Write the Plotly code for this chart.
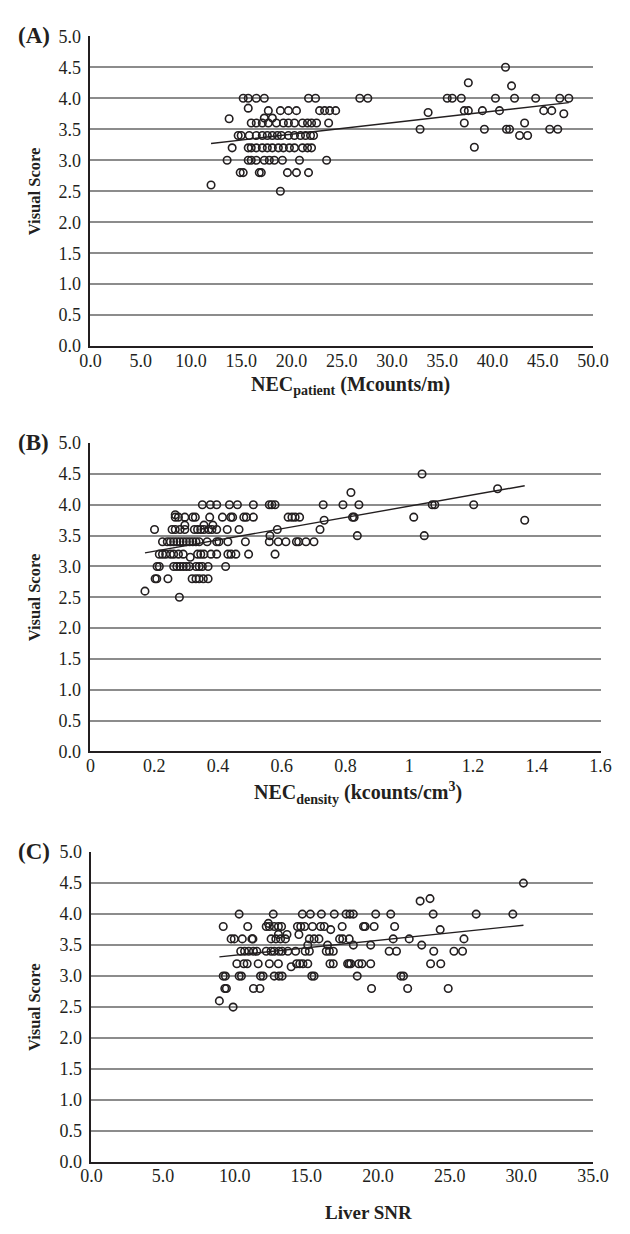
import plotly.graph_objects as go

# ---------------- Panel A: NEC_patient (Mcounts/m) vs Visual Score ----------------
a_x = [15.2, 15.7, 16.5, 17.3, 21.7, 22.4, 26.8, 27.6, 35.5, 36.0, 36.9, 40.3, 42.2, 44.3, 46.7, 47.6,
       41.3, 37.6, 41.9, 15.7,
       17.7, 18.9, 19.7, 20.5, 22.8, 23.3, 23.8, 24.4, 37.2, 37.6, 39.0, 40.7, 45.1, 45.9,
       33.6, 47.1, 17.3, 18.1, 13.8,
       16.0, 16.5, 17.1, 17.7, 18.5, 19.2, 19.7, 20.3, 21.1, 21.6, 22.0, 22.5, 23.7, 37.2, 43.2,
       32.8, 39.2, 41.4, 41.7, 45.7, 46.5,
       14.7, 15.0, 15.8, 16.5, 17.1, 17.6, 18.1, 18.6, 19.0, 19.7, 20.3, 20.9, 21.4, 21.9, 22.2, 42.7, 43.5,
       14.1, 15.7, 16.0, 16.5, 17.1, 17.6, 18.1, 18.7, 19.2, 19.8, 20.3, 21.1, 21.6, 22.0, 38.2,
       13.6, 15.7, 16.0, 16.5, 17.3, 17.8, 18.3, 19.1, 20.8, 23.5,
       14.9, 15.2, 16.8, 17.0, 19.6, 20.5, 21.7,
       12.0, 18.9]
a_y = [4.0, 4.0, 4.0, 4.0, 4.0, 4.0, 4.0, 4.0, 4.0, 4.0, 4.0, 4.0, 4.0, 4.0, 4.0, 4.0,
       4.5, 4.25, 4.2, 3.84,
       3.8, 3.8, 3.8, 3.8, 3.8, 3.8, 3.8, 3.8, 3.8, 3.8, 3.8, 3.8, 3.8, 3.8,
       3.77, 3.75, 3.68, 3.68, 3.67,
       3.6, 3.6, 3.6, 3.6, 3.6, 3.6, 3.6, 3.6, 3.6, 3.6, 3.6, 3.6, 3.6, 3.6, 3.6,
       3.5, 3.5, 3.5, 3.5, 3.5, 3.5,
       3.4, 3.4, 3.4, 3.4, 3.4, 3.4, 3.4, 3.4, 3.4, 3.4, 3.4, 3.4, 3.4, 3.4, 3.4, 3.4, 3.4,
       3.2, 3.2, 3.2, 3.2, 3.2, 3.2, 3.2, 3.2, 3.2, 3.2, 3.2, 3.2, 3.2, 3.2, 3.21,
       3.0, 3.0, 3.0, 3.0, 3.0, 3.0, 3.0, 3.0, 3.0, 3.0,
       2.8, 2.8, 2.8, 2.8, 2.8, 2.8, 2.8,
       2.6, 2.5]
a_trend_x = [12.0, 47.6]
a_trend_y = [3.27, 3.93]

# ---------------- Panel B: NEC_density (kcounts/cm3) vs Visual Score ----------------
b_x = [0.171, 0.279,
       0.203, 0.208, 0.243, 0.319, 0.331, 0.341, 0.354, 0.369,
       0.209, 0.216, 0.261, 0.271, 0.281, 0.291, 0.301, 0.311, 0.331, 0.341, 0.351, 0.369, 0.424,
       0.313,
       0.216, 0.226, 0.236, 0.251, 0.261, 0.276, 0.291, 0.336, 0.346, 0.356, 0.378, 0.396, 0.431, 0.441, 0.456, 0.496, 0.579,
       0.226, 0.241, 0.251, 0.261, 0.271, 0.281, 0.291, 0.301, 0.311, 0.321, 0.331, 0.341, 0.366, 0.396, 0.403, 0.431, 0.486,
       0.561, 0.589, 0.613, 0.646, 0.653, 0.676, 0.701,
       0.563, 0.837, 1.047,
       0.201, 0.256, 0.266, 0.281, 0.296, 0.326, 0.336, 0.346, 0.356, 0.371, 0.381, 0.396, 0.429, 0.466, 0.586, 0.720,
       0.296, 0.356, 0.384,
       0.733, 1.362,
       0.266, 0.276, 0.296, 0.321, 0.329, 0.374, 0.414, 0.440, 0.446, 0.481, 0.489, 0.511, 0.620, 0.632, 0.642, 0.656,
       0.822, 0.827, 1.014,
       0.266,
       0.351, 0.376, 0.396, 0.436, 0.461, 0.511, 0.561, 0.569, 0.579, 0.730, 0.792, 0.842, 1.072, 1.080, 1.202,
       0.817, 1.277, 1.040]
b_y = [2.6, 2.5,
       2.8, 2.8, 2.8, 2.8, 2.8, 2.8, 2.8, 2.8,
       3.0, 3.0, 3.0, 3.0, 3.0, 3.0, 3.0, 3.0, 3.0, 3.0, 3.0, 3.0, 3.0,
       3.15,
       3.2, 3.2, 3.2, 3.2, 3.2, 3.2, 3.2, 3.2, 3.2, 3.2, 3.2, 3.2, 3.2, 3.2, 3.2, 3.2, 3.2,
       3.4, 3.4, 3.4, 3.4, 3.4, 3.4, 3.4, 3.4, 3.4, 3.4, 3.4, 3.4, 3.4, 3.4, 3.4, 3.4, 3.4,
       3.4, 3.4, 3.4, 3.4, 3.4, 3.4, 3.4,
       3.5, 3.5, 3.5,
       3.6, 3.6, 3.6, 3.6, 3.6, 3.6, 3.6, 3.6, 3.6, 3.6, 3.6, 3.6, 3.6, 3.6, 3.6, 3.6,
       3.67, 3.67, 3.67,
       3.75, 3.75,
       3.8, 3.8, 3.8, 3.8, 3.8, 3.8, 3.8, 3.8, 3.8, 3.8, 3.8, 3.8, 3.8, 3.8, 3.8, 3.8,
       3.8, 3.8, 3.8,
       3.84,
       4.0, 4.0, 4.0, 4.0, 4.0, 4.0, 4.0, 4.0, 4.0, 4.0, 4.0, 4.0, 4.0, 4.0, 4.0,
       4.2, 4.26, 4.5]
b_trend_x = [0.171, 1.362]
b_trend_y = [3.22, 4.31]

# ---------------- Panel C: Liver SNR vs Visual Score ----------------
c_x = [9.89, 8.93,
       9.31, 9.42, 11.31, 11.76, 19.55, 22.07, 24.90,
       9.20, 9.35, 10.31, 10.47, 11.80, 11.98, 12.76, 13.09, 13.31, 15.38, 15.54, 18.55, 21.60, 21.78,
       13.94,
       10.15, 10.64, 10.87, 11.64, 12.42, 13.05, 14.32, 14.54, 14.76, 15.10, 16.65, 16.88, 17.88, 17.99, 18.66,
       18.10, 18.88, 19.49, 23.67, 24.38,
       10.42, 10.69, 10.98, 11.31, 11.54, 12.20, 12.54, 12.76, 13.09, 13.31, 13.71, 14.25, 14.92, 15.21, 16.39,
       16.61, 16.88, 20.78, 21.29, 23.89, 25.30, 25.90,
       15.10, 16.48, 18.28, 19.49, 23.05,
       9.75, 9.97, 10.53, 11.20, 11.27, 12.54, 12.87, 13.20, 13.54, 15.21, 15.54, 15.88, 17.32, 17.54, 17.99,
       21.06, 22.18, 26.00,
       13.05, 13.65, 14.48,
       16.70, 24.34,
       9.20, 10.91, 12.20, 12.42, 12.76, 13.05, 13.27, 14.38, 14.61, 14.88, 15.43, 15.99, 16.25, 17.50, 18.99,
       19.10, 19.73, 21.16,
       12.35,
       10.31, 12.69, 14.72, 15.28, 16.05, 16.95, 17.77, 18.04, 18.28, 19.84, 20.89, 23.85, 26.85, 29.41,
       22.94, 23.63, 30.15]
c_y = [2.5, 2.6,
       2.8, 2.8, 2.8, 2.8, 2.8, 2.8, 2.8,
       3.0, 3.0, 3.0, 3.0, 3.0, 3.0, 3.0, 3.0, 3.0, 3.0, 3.0, 3.0, 3.0, 3.0,
       3.15,
       3.2, 3.2, 3.2, 3.2, 3.2, 3.2, 3.2, 3.2, 3.2, 3.2, 3.2, 3.2, 3.2, 3.2, 3.2,
       3.2, 3.2, 3.2, 3.2, 3.2,
       3.4, 3.4, 3.4, 3.4, 3.4, 3.4, 3.4, 3.4, 3.4, 3.4, 3.4, 3.4, 3.4, 3.4, 3.4,
       3.4, 3.4, 3.4, 3.4, 3.4, 3.4, 3.4,
       3.5, 3.5, 3.5, 3.5, 3.5,
       3.6, 3.6, 3.6, 3.6, 3.6, 3.6, 3.6, 3.6, 3.6, 3.6, 3.6, 3.6, 3.6, 3.6, 3.6,
       3.6, 3.6, 3.6,
       3.67, 3.67, 3.67,
       3.75, 3.75,
       3.8, 3.8, 3.8, 3.8, 3.8, 3.8, 3.8, 3.8, 3.8, 3.8, 3.8, 3.8, 3.8, 3.8, 3.8,
       3.8, 3.8, 3.8,
       3.85,
       4.0, 4.0, 4.0, 4.0, 4.0, 4.0, 4.0, 4.0, 4.0, 4.0, 4.0, 4.0, 4.0, 4.0,
       4.21, 4.25, 4.5]
c_trend_x = [8.93, 30.15]
c_trend_y = [3.31, 3.82]

panel_labels = ["(A)", "(B)", "(C)"]
x_titles = ["<b>NEC<sub>patient</sub> (Mcounts/m)</b>",
            "<b>NEC<sub>density</sub> (kcounts/cm<sup>3</sup>)</b>",
            "<b>Liver SNR</b>"]
y_title = "<b>Visual Score</b>"

# ---------------- styling / layout ----------------
W, H = 630, 1234
INK = "#231f20"
FONT = "Liberation Serif"

# pixel geometry of the three plot areas: (left, right, top, bottom)
boxes = [(83, 608, 26.7, 341.7), (83, 616, 440.3, 753.7), (84, 608, 856, 1171)]
x_ranges = [[0, 50], [0, 1.6], [0, 35]]
x_dticks = [5, 0.2, 5]
x_formats = [".1f", "", ".1f"]
x_title_pos = [(355, 382), (363, 796), (374, 1222)]
x_title_sizes = [20, 20, 19]

fig = go.Figure()
series = [(a_x, a_y, a_trend_x, a_trend_y), (b_x, b_y, b_trend_x, b_trend_y), (c_x, c_y, c_trend_x, c_trend_y)]
for i, (sx, sy, tx, ty) in enumerate(series):
    suffix = "" if i == 0 else str(i + 1)
    fig.add_trace(go.Scatter(x=sx, y=sy, mode="markers", xaxis="x" + suffix, yaxis="y" + suffix,
                             marker=dict(symbol="circle-open", size=7.5, color=INK, line=dict(width=1.6, color=INK)),
                             showlegend=False, hoverinfo="skip"))
    fig.add_trace(go.Scatter(x=tx, y=ty, mode="lines", xaxis="x" + suffix, yaxis="y" + suffix,
                             line=dict(color=INK, width=1.4), showlegend=False, hoverinfo="skip"))

layout = dict(width=W, height=H, margin=dict(l=0, r=0, t=0, b=0),
              paper_bgcolor="white", plot_bgcolor="white", showlegend=False,
              font=dict(family=FONT, color=INK))
annotations = []
for i, (l, r, t, b) in enumerate(boxes):
    suffix = "" if i == 0 else str(i + 1)
    xd = [l / W, r / W]
    yd = [1 - b / H, 1 - t / H]
    layout["xaxis" + suffix] = dict(domain=xd, anchor="y" + suffix, range=x_ranges[i], dtick=x_dticks[i], tick0=0,
                                    tickformat=x_formats[i], showgrid=False, zeroline=False,
                                    showline=True, linecolor=INK, linewidth=1.5, ticks="",
                                    ticklabelstandoff=-3,
                                    tickfont=dict(family=FONT, size=18, color=INK), fixedrange=True)
    layout["yaxis" + suffix] = dict(domain=yd, anchor="x" + suffix, range=[0, 5], dtick=0.5, tick0=0,
                                    tickformat=".1f", showgrid=True, gridcolor="#8c8c8c", gridwidth=1.5,
                                    zeroline=False, showline=True, linecolor=INK, linewidth=1.5, ticks="",
                                    ticklabelstandoff=4,
                                    tickfont=dict(family=FONT, size=18, color=INK), fixedrange=True)
    annotations.append(dict(text="<b>" + panel_labels[i] + "</b>", xref="paper", yref="paper",
                            x=24 / W, y=1 - (t - 1) / H, xanchor="center", yanchor="middle", showarrow=False,
                            font=dict(family=FONT, size=23, color=INK)))
    annotations.append(dict(text=y_title, xref="paper", yref="paper", textangle=-90,
                            x=24 / W, y=1 - ((t + b) / 2) / H, xanchor="center", yanchor="middle", showarrow=False,
                            font=dict(family=FONT, size=16.5, color=INK)))
    tx_, ty_ = x_title_pos[i]
    annotations.append(dict(text=x_titles[i], xref="paper", yref="paper",
                            x=tx_ / W, y=1 - ty_ / H, xanchor="center", yanchor="middle", showarrow=False,
                            font=dict(family=FONT, size=x_title_sizes[i], color=INK)))
layout["annotations"] = annotations
fig.update_layout(**layout)
fig.write_html("out.html")
